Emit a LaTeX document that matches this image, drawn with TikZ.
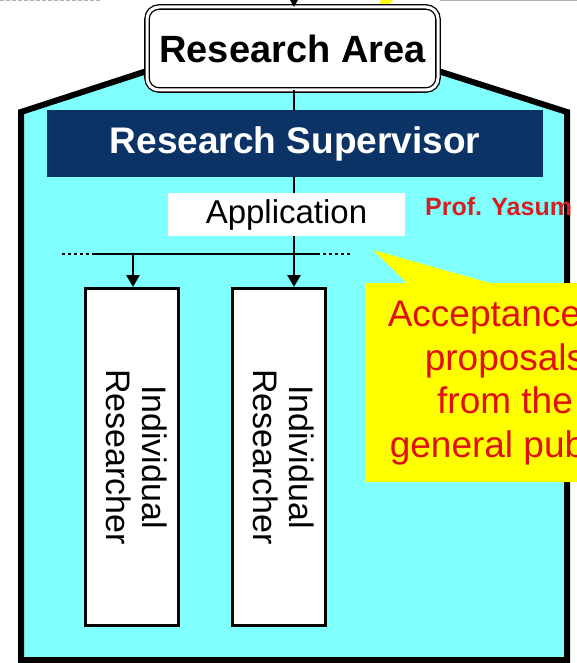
\documentclass[tikz,border=0pt]{standalone}
\usepackage{fontspec}
\setmainfont{Liberation Sans}
\usetikzlibrary{arrows.meta}
\definecolor{cyanfill}{HTML}{80FFFF}
\definecolor{navy}{HTML}{0B3366}
\definecolor{calloutyellow}{HTML}{FFFF00}
\definecolor{redtext}{HTML}{E01010}
\definecolor{profred}{HTML}{D42020}
\begin{document}
\begin{tikzpicture}[x=1pt,y=-1pt,
  housestyle/.style={line width=6pt,line join=miter,draw=black,fill=cyanfill},
  areabox/.style={draw=black,double=white,double distance=3pt,line width=1.3pt,
    rounded corners=12pt,fill=white,inner sep=0pt,outer sep=0pt,
    minimum width=291pt,minimum height=83pt,font=\fontsize{38}{44}\selectfont\bfseries},
  supbar/.style={fill=navy,inner sep=0pt,minimum width=496pt,minimum height=67pt,
    text=white,font=\fontsize{37}{44}\selectfont\bfseries},
  appbox/.style={fill=white,inner sep=0pt,minimum width=237pt,minimum height=43pt,
    font=\fontsize{33}{40}\selectfont},
  resbox/.style={draw=black,line width=3pt,fill=white,inner sep=0pt,
    minimum width=93pt,minimum height=337pt,font=\fontsize{34}{35}\selectfont},
  conn/.style={line width=2.8pt,draw=black},
  arr/.style={conn,-{Triangle[length=12pt,width=13pt]}},
  dotline/.style={line width=2.8pt,draw=black,dash pattern=on 3pt off 3pt}
]
\useasboundingbox (0,0) rectangle (577,663);
\begin{scope}
\clip (0,0) rectangle (577,663);
% page edge remnants at top
\draw[gray!60,line width=1pt,dash pattern=on 4pt off 2pt] (0,1) -- (100,1);
\draw[gray!60,line width=1pt] (440,1) -- (577,1);
\fill[calloutyellow] (381,0) -- (393,0) -- (371,22) -- cycle;
% gray object below
\fill[gray!45] (318,684) ellipse [x radius=85pt,y radius=24pt];
% house-shaped frame
\path[housestyle] (21,660) -- (21,112) -- (150,70) -- (435,70) -- (567,112) -- (567,660) -- cycle;
% spine and bus coordinates
\coordinate (spine) at (294,0);
\coordinate (bus) at (0,254);
\coordinate (topin) at (294,-2);
\coordinate (busL) at (95,254);
\coordinate (busR) at (317,254);
\coordinate (dotL) at (62,254);
\coordinate (dotR) at (352,254);
% nodes
\node[areabox] (ra) at (292.5,48.5) {Research Area};
\node[appbox] (app) at (286.5,214.5) {Application};
\draw[conn] (ra.south -| spine) -- (app.north -| spine);
\node[supbar] (sup) at (295,143.5) {Research Supervisor};
\draw[arr] (topin) -- (ra.north -| spine);
\node[resbox] (r1) at (131.5,457) {\rotatebox{-90}{\begin{tabular}{@{}c@{}}Individual\\Researcher\end{tabular}}};
\node[resbox] (r2) at (278.5,457) {\rotatebox{-90}{\begin{tabular}{@{}c@{}}Individual\\Researcher\end{tabular}}};
% connectors
\draw[conn] (app.south -| spine) -- (bus -| spine);
\draw[conn] (busL) -- (busR);
\draw[dotline] (dotL) -- (busL);
\draw[dotline] (busR) -- (dotR);
\draw[arr] (busL -| 133,0) -- (r1.north -| 133,0);
\draw[arr] (bus -| spine) -- (r2.north -| spine);
% label
\node[anchor=base west,text=profred,font=\fontsize{25}{30}\selectfont\bfseries,inner sep=0pt] (prof) at (425,215) {Prof. Yasum};
% callout
\fill[calloutyellow] (373,250) -- (407,283) -- (365,283) -- (365,482) -- (600,482) -- (600,283) -- (490,283) -- cycle;
\node[text=redtext,align=center,inner sep=0pt,font=\fontsize{37}{43.5}\selectfont] (callout) at (505,382.5) {Acceptance of\\proposals\\from the\\general public};
\end{scope}
\end{tikzpicture}
\end{document}
